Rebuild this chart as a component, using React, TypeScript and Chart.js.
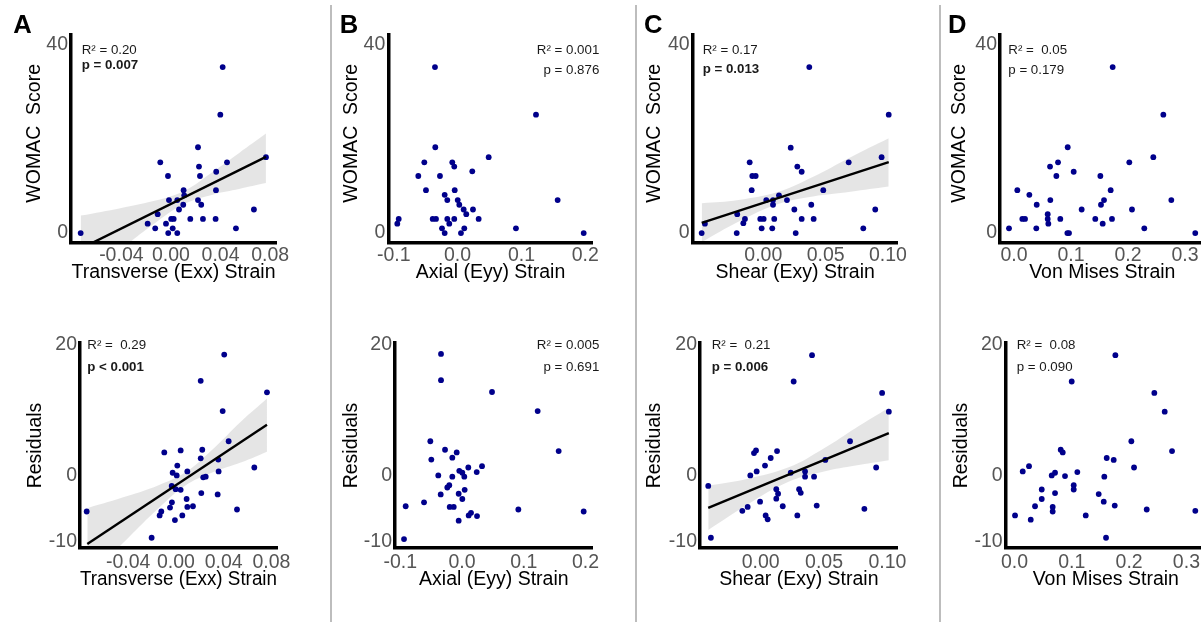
import React, { useEffect, useRef } from "react";
import { Chart, registerables } from "chart.js";

Chart.register(...registerables);

// ---------------- DATA ----------------
// Panel A: Transverse (Exx) strain vs WOMAC score
const exxStrainScore = [-0.0728, 0.0417, 0.0398, 0.0218, 0.0766, -0.0086, 0.0452, 0.0226, -0.0024, 0.0234, 0.0365, 0.0102, 0.0107, 0.0363, -0.0016, 0.0051, 0.0099, 0.0218, 0.0244, 0.0065, -0.0107, 0.0669, -0.0188, -0.004, 0.0002, 0.0022, 0.0156, 0.0258, 0.036, -0.0127, 0.0014, -0.0022, 0.0051, 0.0524];
const womacExx = [0, 35.2, 25.1, 18.2, 16.1, 15, 15, 14.1, 12.1, 12.1, 13, 9.1, 8, 9.1, 7, 7, 6, 7, 6, 5, 4, 5, 2, 2, 3, 3, 3, 3, 3, 1, 1, 0, 0, 1];
const exxScoreFitX = [-0.0728, 0.0766];
const exxScoreFitY = [-3.3, 16.15];
const exxScoreBandX = [-0.0728, -0.04, -0.015, 0.01, 0.035, 0.055, 0.0766];
const exxScoreBandLow = [-10.3, -3.4, 1.73, 6.08, 8.24, 9.36, 10.6];
const exxScoreBandHigh = [3.7, 5.34, 6.73, 8.88, 13.24, 17.0, 21.1];

// Panel A: Transverse (Exx) strain vs residuals
const exxStrainResid = [0.0208, 0.0405, 0.0763, 0.0392, 0.0442, -0.0097, 0.004, 0.0221, 0.0208, 0.0355, 0.0012, -0.0027, 0.0007, 0.0096, 0.0657, 0.0229, 0.025, 0.0358, -0.0035, -0.0002, 0.004, 0.0213, 0.035, 0.009, -0.0033, -0.0049, 0.0096, 0.0143, 0.0512, -0.0747, -0.0122, -0.0136, 0.0054, -0.0008, -0.0203];
const residExx = [14.5, 18.5, 12.75, 9.9, 5.3, 3.6, 3.9, 4.0, 2.7, 2.5, 1.6, 0.5, 0.1, 0.7, 1.3, -0.2, -0.1, 0.7, -1.5, -2.0, -2.1, -2.6, -2.8, -3.5, -4.0, -4.8, -4.7, -4.6, -5.1, -5.4, -5.4, -6.0, -6.0, -6.7, -9.4];
const exxResidFitX = [-0.0742, 0.0763];
const exxResidFitY = [-10.35, 7.8];
const exxResidBandX = [-0.0742, -0.04, -0.015, 0.008, 0.03, 0.055, 0.0763];
const exxResidBandLow = [-15.6, -9.42, -4.98, -1.44, 0.51, 2.09, 3.7];
const exxResidBandHigh = [-4.9, -3.02, -1.44, 0.56, 3.93, 8.37, 11.8];

// Panel B: Axial (Eyy) strain vs WOMAC score
const eyyStrainScore = [-0.0354, 0.1228, -0.0349, 0.0487, -0.0521, -0.0083, -0.0052, -0.0615, -0.0276, 0.023, -0.0495, -0.0045, -0.0202, -0.0161, 0.0002, 0.0027, 0.1567, 0.0241, 0.0095, 0.0136, -0.0922, -0.0944, -0.039, -0.0338, -0.0161, -0.013, -0.0052, 0.033, -0.0244, -0.0202, 0.0053, 0.0105, 0.0914, 0.1975];
const womacEyy = [35.2, 25.1, 18.2, 16.1, 15, 15, 14.1, 12.1, 12.1, 13.1, 9.1, 9.1, 8.1, 7, 7, 6, 7, 5, 5, 4, 3, 2, 3, 3, 3, 2, 3, 3, 1, 0, 0, 1, 1, 0];

// Panel B: Axial (Eyy) strain vs residuals
const eyyStrainResid = [-0.034, -0.034, 0.0486, 0.1225, -0.0513, 0.1565, -0.0275, -0.0086, -0.0497, -0.0157, 0.0324, 0.0102, -0.0044, 0.0005, 0.0238, -0.0384, -0.0157, 0.0037, -0.0206, -0.0238, 0.0043, -0.0345, -0.0054, 0.0005, -0.0615, -0.0912, -0.0199, -0.0134, 0.0912, 0.197, 0.0146, 0.0108, 0.0243, -0.0054, -0.0939];
const residEyy = [18.6, 14.6, 12.8, 9.9, 5.3, 3.8, 4.0, 3.6, 2.5, 2.8, 1.5, 1.3, 0.8, 0.5, 0.6, 0.1, -0.1, -0.1, -1.4, -1.75, -2.1, -2.8, -2.7, -3.5, -4.0, -4.6, -4.7, -4.7, -5.1, -5.4, -5.6, -6.0, -6.1, -6.8, -9.6];

// Panel C: Shear (Exy) strain vs WOMAC score
const exyStrainScore = [0.022, -0.0109, 0.0685, 0.0949, 0.0273, 0.0308, -0.0088, -0.0061, -0.0093, 0.0481, 0.0126, 0.0024, 0.0078, 0.019, 0.0078, 0.0385, 0.0249, 0.0898, -0.0209, -0.0147, -0.016, -0.0024, 0.0003, 0.0088, 0.0308, 0.0404, -0.0468, -0.0013, 0.0072, 0.0802, -0.0494, -0.0213, 0.026, 0.0369, 0.1006];
const womacExy = [18.1, 15, 15, 16.1, 14.1, 13, 12.1, 12.1, 9.1, 9.1, 8, 7, 7, 7, 6, 6, 5, 5, 4, 3, 2.1, 3, 3, 3, 3, 3, 2, 1, 1, 1, 0, 0, 0, 35.2, 25.1];
const exyScoreFitX = [-0.0494, 0.1006];
const exyScoreFitY = [2.18, 15.06];
const exyScoreBandX = [-0.0494, -0.02, 0.012, 0.04, 0.07, 0.1006];
const exyScoreBandLow = [-1.9, 2.4, 6.15, 7.76, 8.76, 9.85];
const exyScoreBandHigh = [6.3, 7.0, 8.75, 11.96, 16.1, 20.1];

// Panel C: Shear (Exy) strain vs residuals
const exyStrainResid = [0.0958, 0.1011, 0.0705, -0.0037, -0.0053, 0.0129, 0.0079, 0.0034, 0.051, -0.0032, -0.0082, 0.0237, 0.035, 0.035, 0.0421, 0.0911, -0.0414, 0.0123, 0.0137, 0.0123, 0.0303, 0.0316, -0.0005, 0.0174, 0.0442, -0.0103, -0.0145, 0.0818, 0.0039, 0.0055, 0.0289, -0.0393, 0.0405, 0.026];
const residExy = [12.65, 9.8, 5.3, 3.9, 3.5, 3.8, 2.75, 1.6, 2.45, 0.7, 0.1, 0.5, 0.7, -0.1, -0.1, 1.3, -1.5, -2.0, -2.7, -3.45, -2.0, -2.55, -3.9, -4.6, -4.5, -4.7, -5.3, -5.0, -6.0, -6.6, -6.0, -9.4, 18.4, 14.4];
const exyResidFitX = [-0.0414, 0.1011];
const exyResidFitY = [-4.85, 6.55];
const exyResidBandX = [-0.0414, -0.01, 0.022, 0.05, 0.075, 0.1011];
const exyResidBandLow = [-8.2, -4.28, -0.88, 0.68, 1.59, 2.4];
const exyResidBandHigh = [-1.45, -0.4, 1.32, 4.24, 7.33, 10.4];

// Panel D: Von Mises strain vs WOMAC score
const vmStrainScore = [0.1731, 0.262, 0.0942, 0.2444, 0.0772, 0.2023, 0.0632, 0.1047, 0.0743, 0.1515, 0.0058, 0.1696, 0.0269, 0.0637, 0.1579, 0.276, 0.0398, 0.1526, 0.1187, 0.207, 0.0591, 0.0146, 0.0193, 0.0591, 0.0812, 0.1426, 0.1719, 0.0602, 0.1556, -0.0088, 0.0391, 0.2286, 0.0965, 0.318, 0.0936];
const womacVm = [35.2, 25.1, 18.2, 16.1, 15, 15, 14.1, 13, 12.1, 12.1, 9.1, 9.1, 8.1, 7, 7, 7, 6, 6, 5, 5, 4, 3, 3, 3, 3, 3, 3, 2, 2, 1, 1, 1, 0, 0, 0];

// Panel D: Von Mises strain vs residuals
const vmStrainResid = [0.176, 0.0998, 0.244, 0.2621, 0.2039, 0.2749, 0.0806, 0.0841, 0.1609, 0.1731, 0.0253, 0.2086, 0.0143, 0.1096, 0.0707, 0.0649, 0.0881, 0.1567, 0.1033, 0.1033, 0.0475, 0.0707, 0.1469, 0.0475, 0.1557, 0.0358, 0.1749, 0.0666, 0.0666, 0.2307, 0.3155, 0.0009, 0.1243, 0.0283, 0.1597];
const residVm = [18.4, 14.4, 12.65, 9.8, 5.3, 3.8, 4.0, 3.6, 2.75, 2.45, 1.5, 1.3, 0.7, 0.6, 0.5, 0.1, 0, -0.1, -1.4, -2.05, -2.05, -2.6, -2.75, -3.5, -3.9, -4.6, -4.5, -4.7, -5.4, -5.1, -5.3, -6.0, -6.0, -6.65, -9.4];

// Tick labels
const xTicksExx = [-0.04, 0, 0.04, 0.08];
const xTicksEyy = [-0.1, 0, 0.1, 0.2];
const xTicksExy = [0, 0.05, 0.1];
const xTicksVm = [0, 0.1, 0.2, 0.3];
const yTicksScore = [0, 40];
const yTicksResid = [-10, 0, 20];

// ---------------- STYLE / LAYOUT ----------------
const FONT = "'Liberation Sans', Arial, Helvetica, sans-serif";
const AXIS_PX = 19.5;
const LH = AXIS_PX * 1.2;
const NAVY = "#00008B";
const BAND = "rgba(0,0,0,0.1)";
const TOP_Y = { min: -2, max: 42, t: 35, b: 242.5, xTitleY: 272.5, tickPad: 1.5 };
const BOT_Y = { min: -10.96, max: 20.26, t: 343, b: 548, xTitleY: 579, tickPad: 2.5 };

type Note = { text: string; bold?: boolean };
type PanelCfg = {
  xs: number[]; ys: number[];
  fitX?: number[]; fitY?: number[];
  bandX?: number[]; bandLow?: number[]; bandHigh?: number[];
  xMin: number; xMax: number; xTicks: number[]; xDec: number; xTitle: string;
  row: typeof TOP_Y; yTicks: number[]; yTitle: string;
  l: number; r: number; yTitleX: number;
  notes: Note[]; noteX: number; noteAlign: CanvasTextAlign; noteBase: number[];
};

const SCORE_TITLE = "  WOMAC  Score";
const RESID_TITLE = "Residuals";

const panels: PanelCfg[] = [
  { xs: exxStrainScore, ys: womacExx, fitX: exxScoreFitX, fitY: exxScoreFitY, bandX: exxScoreBandX, bandLow: exxScoreBandLow, bandHigh: exxScoreBandHigh,
    xMin: -0.0806, xMax: 0.0847, xTicks: xTicksExx, xDec: 2, xTitle: "Transverse (Exx) Strain",
    row: TOP_Y, yTicks: yTicksScore, yTitle: SCORE_TITLE, l: 71, r: 276, yTitleX: 35,
    notes: [{ text: "R² = 0.20" }, { text: "p = 0.007", bold: true }], noteX: 81.7, noteAlign: "left", noteBase: [54, 69.3] },
  { xs: exxStrainResid, ys: residExx, fitX: exxResidFitX, fitY: exxResidFitY, bandX: exxResidBandX, bandLow: exxResidBandLow, bandHigh: exxResidBandHigh,
    xMin: -0.0803, xMax: 0.0847, xTicks: xTicksExx, xDec: 2, xTitle: "Transverse (Exx) Strain",
    row: BOT_Y, yTicks: yTicksResid, yTitle: RESID_TITLE, l: 80, r: 277, yTitleX: 35.7,
    notes: [{ text: "R² =  0.29" }, { text: "p < 0.001", bold: true }], noteX: 87.3, noteAlign: "left", noteBase: [349, 370.7] },
  { xs: eyyStrainScore, ys: womacEyy,
    xMin: -0.1085, xMax: 0.2116, xTicks: xTicksEyy, xDec: 1, xTitle: "Axial (Eyy) Strain",
    row: TOP_Y, yTicks: yTicksScore, yTitle: SCORE_TITLE, l: 388.3, r: 592.7, yTitleX: 351.7,
    notes: [{ text: "R² = 0.001" }, { text: "p = 0.876" }], noteX: 599.3, noteAlign: "right", noteBase: [54.3, 74] },
  { xs: eyyStrainResid, ys: residEyy,
    xMin: -0.1085, xMax: 0.2116, xTicks: xTicksEyy, xDec: 1, xTitle: "Axial (Eyy) Strain",
    row: BOT_Y, yTicks: yTicksResid, yTitle: RESID_TITLE, l: 395, r: 592.7, yTitleX: 351.7,
    notes: [{ text: "R² = 0.005" }, { text: "p = 0.691" }], noteX: 599.3, noteAlign: "right", noteBase: [349.3, 371] },
  { xs: exyStrainScore, ys: womacExy, fitX: exyScoreFitX, fitY: exyScoreFitY, bandX: exyScoreBandX, bandLow: exyScoreBandLow, bandHigh: exyScoreBandHigh,
    xMin: -0.0566, xMax: 0.1078, xTicks: xTicksExy, xDec: 2, xTitle: "Shear (Exy) Strain",
    row: TOP_Y, yTicks: yTicksScore, yTitle: SCORE_TITLE, l: 692.7, r: 897.7, yTitleX: 655,
    notes: [{ text: "R² = 0.17" }, { text: "p = 0.013", bold: true }], noteX: 702.7, noteAlign: "left", noteBase: [54, 73.3] },
  { xs: exyStrainResid, ys: residExy, fitX: exyResidFitX, fitY: exyResidFitY, bandX: exyResidBandX, bandLow: exyResidBandLow, bandHigh: exyResidBandHigh,
    xMin: -0.0479, xMax: 0.1081, xTicks: xTicksExy, xDec: 2, xTitle: "Shear (Exy) Strain",
    row: BOT_Y, yTicks: yTicksResid, yTitle: RESID_TITLE, l: 700, r: 897.7, yTitleX: 655,
    notes: [{ text: "R² =  0.21" }, { text: "p = 0.006", bold: true }], noteX: 711.7, noteAlign: "left", noteBase: [349.3, 371] },
  { xs: vmStrainScore, ys: womacVm,
    xMin: -0.0246, xMax: 0.3344, xTicks: xTicksVm, xDec: 1, xTitle: "Von Mises Strain",
    row: TOP_Y, yTicks: yTicksScore, yTitle: SCORE_TITLE, l: 1000, r: 1204.6, yTitleX: 960,
    notes: [{ text: "R² =  0.05" }, { text: "p = 0.179" }], noteX: 1008.3, noteAlign: "left", noteBase: [54.3, 74] },
  { xs: vmStrainResid, ys: residVm,
    xMin: -0.0154, xMax: 0.334, xTicks: xTicksVm, xDec: 1, xTitle: "Von Mises Strain",
    row: BOT_Y, yTicks: yTicksResid, yTitle: RESID_TITLE, l: 1005.7, r: 1205.9, yTitleX: 961.7,
    notes: [{ text: "R² =  0.08" }, { text: "p = 0.090" }], noteX: 1016.7, noteAlign: "left", noteBase: [349.3, 371] },
];

const letters = [
  { text: "A", left: 13.3 },
  { text: "B", left: 339.8 },
  { text: "C", left: 643.9 },
  { text: "D", left: 948.1 },
];
const separators = [330, 635, 938.5];

function geometry(c: PanelCfg) {
  const left = Math.round(c.yTitleX - LH / 2);
  const top = Math.round(c.row.t - 18);
  const right = Math.round(c.r + 32);
  const bottom = Math.round(c.row.xTitleY + LH / 2);
  return {
    left, top, w: right - left, h: bottom - top,
    yAxisW: c.l - left, xAxisH: bottom - c.row.b,
    padTop: c.row.t - top, padRight: right - c.r,
  };
}

function Panel({ cfg }: { cfg: PanelCfg }) {
  const ref = useRef<HTMLCanvasElement | null>(null);
  const g = geometry(cfg);

  useEffect(() => {
    const canvas = ref.current;
    if (!canvas) return;
    const datasets: any[] = [];
    if (cfg.fitX && cfg.fitY) {
      datasets.push({
        data: cfg.fitX.map((x, i) => ({ x, y: cfg.fitY![i] })),
        showLine: true, borderColor: "#000", borderWidth: 2.4,
        pointRadius: 0, pointHoverRadius: 0, fill: false, clip: 0,
      });
    }
    datasets.push({
      data: cfg.xs.map((x, i) => ({ x, y: cfg.ys[i] })),
      backgroundColor: NAVY, borderColor: NAVY,
      pointRadius: 2.9, pointHoverRadius: 2.9, pointBorderWidth: 0,
    });
    if (cfg.bandX && cfg.bandLow && cfg.bandHigh) {
      datasets.push({
        data: cfg.bandX.map((x, i) => ({ x, y: cfg.bandHigh![i] })),
        showLine: true, borderColor: "rgba(0,0,0,0)", borderWidth: 0,
        pointRadius: 0, pointHoverRadius: 0, tension: 0.4,
        fill: "+1", backgroundColor: BAND, clip: 0,
      });
      datasets.push({
        data: cfg.bandX.map((x, i) => ({ x, y: cfg.bandLow![i] })),
        showLine: true, borderColor: "rgba(0,0,0,0)", borderWidth: 0,
        pointRadius: 0, pointHoverRadius: 0, tension: 0.4,
        fill: false, clip: 0,
      });
    }

    const notePlugin = {
      id: "notes",
      afterDraw(chart: any) {
        const ctx = chart.ctx as CanvasRenderingContext2D;
        ctx.save();
        ctx.fillStyle = "#1a1a1a";
        ctx.textAlign = cfg.noteAlign;
        ctx.textBaseline = "alphabetic";
        cfg.notes.forEach((n, i) => {
          ctx.font = `${n.bold ? "bold " : ""}13.3px ${FONT}`;
          ctx.fillText(n.text, cfg.noteX - g.left, cfg.noteBase[i] - g.top);
        });
        ctx.restore();
      },
    };

    const chart = new Chart(canvas, {
      type: "scatter",
      data: { datasets },
      options: {
        responsive: false,
        animation: false,
        devicePixelRatio: 1,
        events: [],
        layout: { padding: { left: 0, top: g.padTop, right: g.padRight, bottom: 0 } },
        plugins: { legend: { display: false }, tooltip: { enabled: false } },
        scales: {
          x: {
            type: "linear", position: "bottom", min: cfg.xMin, max: cfg.xMax,
            grid: { display: false, drawTicks: false },
            border: { display: true, color: "#000", width: 3.5 },
            ticks: {
              font: { family: FONT, size: AXIS_PX }, color: "#555", padding: cfg.row.tickPad,
              maxRotation: 0, autoSkip: false,
              callback: (v: any) => Number(v).toFixed(cfg.xDec),
            },
            title: { display: true, text: cfg.xTitle, font: { family: FONT, size: AXIS_PX }, color: "#000", padding: 0 },
            afterBuildTicks: (s: any) => { s.ticks = cfg.xTicks.map((v) => ({ value: v })); },
            afterFit: (s: any) => { s.height = g.xAxisH; },
          },
          y: {
            type: "linear", position: "left", min: cfg.row.min, max: cfg.row.max,
            grid: { display: false, drawTicks: false },
            border: { display: true, color: "#000", width: 3.5 },
            ticks: {
              font: { family: FONT, size: AXIS_PX }, color: "#555", padding: 3, autoSkip: false,
              callback: (v: any) => String(v),
            },
            title: { display: true, text: cfg.yTitle, font: { family: FONT, size: AXIS_PX }, color: "#000", padding: 0 },
            afterBuildTicks: (s: any) => { s.ticks = cfg.yTicks.map((v) => ({ value: v })); },
            afterFit: (s: any) => { s.width = g.yAxisW; },
          },
        },
      } as any,
      plugins: [notePlugin],
    });
    return () => chart.destroy();
  }, []);

  return (
    <canvas
      ref={ref}
      width={g.w}
      height={g.h}
      style={{ position: "absolute", left: g.left, top: g.top, width: g.w, height: g.h }}
    />
  );
}

export default function App() {
  return (
    <div style={{ position: "fixed", left: 0, top: 0, width: "100vw", height: "100vh", overflow: "hidden", background: "#fff" }}>
      {separators.map((x, i) => (
        <div key={"s" + i} style={{ position: "absolute", left: x, top: 5, width: 2, height: 617, background: "#bdbdbd" }} />
      ))}
      {panels.map((p, i) => (
        <Panel key={i} cfg={p} />
      ))}
      {letters.map((l) => (
        <div key={l.text} style={{ position: "absolute", left: l.left, top: 11.6, font: `bold 25.6px ${FONT}`, lineHeight: "25.6px", color: "#000" }}>
          {l.text}
        </div>
      ))}
    </div>
  );
}
